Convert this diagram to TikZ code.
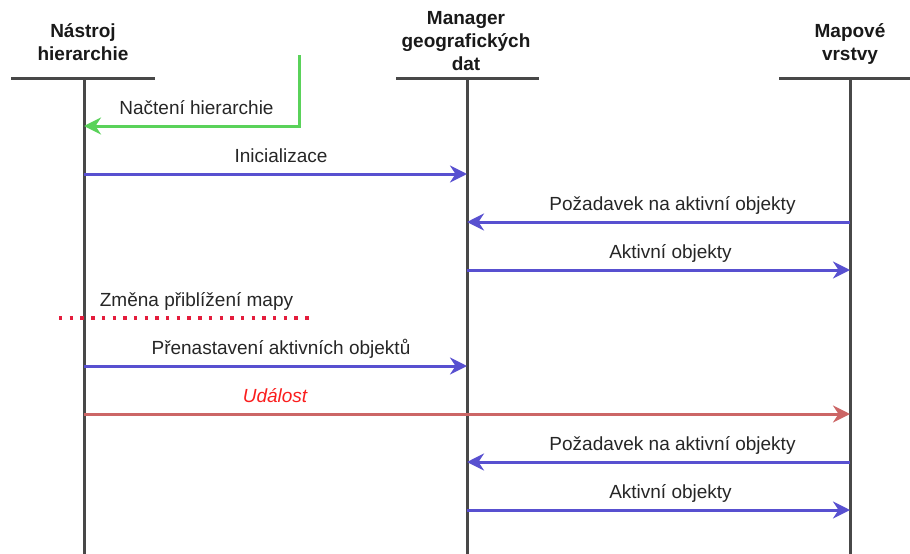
\documentclass[tikz,border=0pt]{standalone}
\usepackage{fontspec}
\setmainfont{Liberation Sans}
\usetikzlibrary{arrows.meta}
\definecolor{lifegray}{RGB}{72,72,72}
\definecolor{msgblue}{RGB}{88,80,208}
\definecolor{msggreen}{RGB}{90,210,90}
\definecolor{msgred}{RGB}{204,102,102}
\definecolor{txtred}{RGB}{250,30,30}
\definecolor{dotred}{RGB}{228,28,60}
\begin{document}
\begin{tikzpicture}[x=1pt,y=-1pt,
  header/.style={font=\fontsize{19}{23}\selectfont\bfseries, align=center, anchor=south, inner sep=0pt, text depth=0pt, text=black!90},
  lbl/.style={font=\fontsize{19}{23}\selectfont, anchor=base, inner sep=0pt, text=black!85},
  bar/.style={draw=lifegray, line width=3pt},
  life/.style={draw=lifegray, line width=3pt},
  tipst/.style={-{Stealth[length=17pt,width=17pt,inset=5.5pt]}},
  msg/.style={draw=msgblue, line width=3pt, tipst},
  ret/.style={draw=msggreen, line width=3pt, line join=miter, tipst},
  evt/.style={draw=msgred, line width=3pt, tipst},
  dotsep/.style={draw=dotred, line width=3.2pt, dash pattern=on 3.4pt off 7.3pt}
]
\useasboundingbox (0,0) rectangle (910,554);

% headers
\node[header] (h1) at (83,61) {Nástroj\\hierarchie};
\node[header] (h2) at (466,71) {Manager\\geografických\\dat};
\node[header] (h3) at (850,61) {Mapové\\vrstvy};

% header bars
\coordinate (b1l) at (11,78);  \coordinate (b1r) at (155,78);
\coordinate (b2l) at (396,78); \coordinate (b2r) at (539,78);
\coordinate (b3l) at (779,78); \coordinate (b3r) at (921,78);
\draw[bar] (b1l) -- (b1r);
\draw[bar] (b2l) -- (b2r);
\draw[bar] (b3l) -- (b3r);

% lifelines
\coordinate (l1t) at (84,78);  \coordinate (l1b) at (84,556);
\coordinate (l2t) at (467,78); \coordinate (l2b) at (467,556);
\coordinate (l3t) at (850,78); \coordinate (l3b) at (850,556);
\draw[life] (l1t) -- (l1b);
\draw[life] (l2t) -- (l2b);
\draw[life] (l3t) -- (l3b);

% message points
\foreach \n/\y in {a/126,b/174,c/222,d/270,f/366,g/414,h/462,i/510}{
  \coordinate (\n1) at (84,\y);
  \coordinate (\n2) at (467,\y);
  \coordinate (\n3) at (850,\y);
}
\coordinate (gs) at (299,55);
\coordinate (gc) at (299,126);
\coordinate (ds) at (59,318);
\coordinate (de) at (314,318);

% messages
\draw[ret] (gs) -- (gc) -- (a1);
\node[lbl] (t1) at (196.5,114.5) {Načtení hierarchie};

\draw[msg] (b1) -- (b2);
\node[lbl] (t2) at (281,162.5) {Inicializace};

\draw[msg] (c3) -- (c2);
\node[lbl] (t3) at (672.5,210.5) {Požadavek na aktivní objekty};

\draw[msg] (d2) -- (d3);
\node[lbl] (t4) at (670.5,258.5) {Aktivní objekty};

\draw[dotsep] (ds) -- (de);
\node[lbl] (t5) at (196.5,306.5) {Změna přiblížení mapy};

\draw[msg] (f1) -- (f2);
\node[lbl] (t6) at (281,354.5) {Přenastavení aktivních objektů};

\draw[evt] (g1) -- (g3);
\node[lbl, text=txtred, font=\fontsize{19}{23}\selectfont\itshape] (t7) at (275,402.5) {Událost};

\draw[msg] (h3) -- (h2);
\node[lbl] (t8) at (672.5,450.5) {Požadavek na aktivní objekty};

\draw[msg] (i2) -- (i3);
\node[lbl] (t9) at (670.5,498.5) {Aktivní objekty};
\end{tikzpicture}
\end{document}
